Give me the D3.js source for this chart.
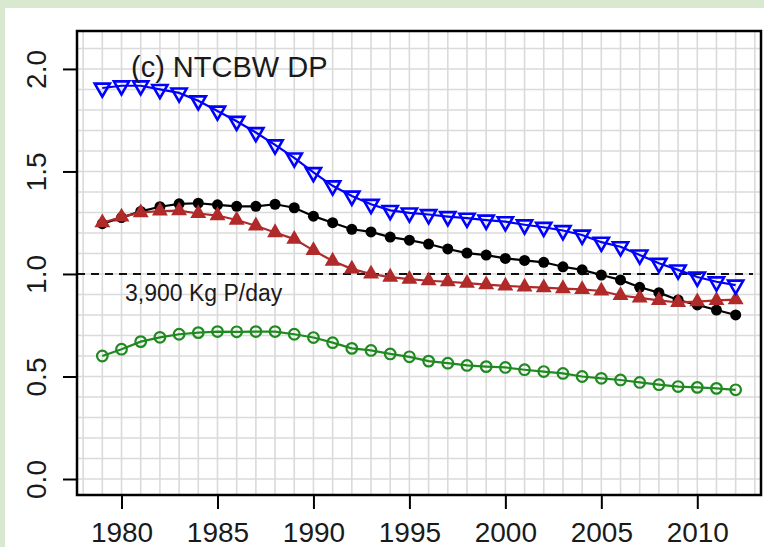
<!DOCTYPE html>
<html>
<head>
<meta charset="utf-8">
<script src="https://cdn.jsdelivr.net/npm/d3@7/dist/d3.min.js"></script>
<style>
  html, body { margin: 0; padding: 0; background: #d8e9d0; }
  svg { display: block; }
  text { font-family: "Liberation Sans", Arial, sans-serif; fill: #1a1a1a; }
</style>
</head>
<body>
<svg id="chart" width="764" height="547"></svg>
<script>
// Years of record
const years = d3.range(1979, 2013);

// Series values (DP load relative to 3,900 Kg P/day)
const blueSeries = [1.907, 1.918, 1.918, 1.900, 1.883, 1.845, 1.795, 1.745, 1.690, 1.630,
  1.566, 1.495, 1.430, 1.380, 1.340, 1.310, 1.298, 1.290, 1.280, 1.272,
  1.263, 1.255, 1.240, 1.228, 1.212, 1.190, 1.155, 1.133, 1.093, 1.052,
  1.020, 0.985, 0.962, 0.946];
const blackSeries = [1.245, 1.275, 1.305, 1.328, 1.342, 1.345, 1.337, 1.330, 1.330, 1.340,
  1.323, 1.282, 1.250, 1.218, 1.205, 1.180, 1.165, 1.146, 1.122, 1.102,
  1.092, 1.076, 1.066, 1.057, 1.035, 1.020, 0.995, 0.971, 0.935, 0.909,
  0.873, 0.849, 0.824, 0.800];
const redSeries = [1.250, 1.278, 1.299, 1.307, 1.309, 1.295, 1.285, 1.263, 1.235, 1.202,
  1.170, 1.115, 1.063, 1.025, 1.000, 0.985, 0.975, 0.967, 0.962, 0.955,
  0.948, 0.942, 0.937, 0.933, 0.929, 0.925, 0.917, 0.895, 0.883, 0.871,
  0.861, 0.865, 0.871, 0.875];
const greenSeries = [0.600, 0.633, 0.670, 0.691, 0.706, 0.714, 0.719, 0.718, 0.719, 0.719,
  0.706, 0.690, 0.665, 0.637, 0.627, 0.610, 0.596, 0.575, 0.565, 0.554,
  0.548, 0.544, 0.533, 0.524, 0.515, 0.500, 0.491, 0.483, 0.471, 0.460,
  0.451, 0.447, 0.442, 0.435];

// Axis ticks and reference level
const xTicks = [1980, 1985, 1990, 1995, 2000, 2005, 2010];
const yTicks = [0.0, 0.5, 1.0, 1.5, 2.0];
const yTickLabels = ["0.0", "0.5", "1.0", "1.5", "2.0"];
const refLevel = 1.0;
const refLabel = "3,900 Kg P/day";
const title = "(c) NTCBW DP";

const svg = d3.select("#chart");

// White panel on the green page
svg.append("rect").attr("x", 5).attr("y", 8).attr("width", 759).attr("height", 539).attr("fill", "#ffffff");

const plot = { left: 77, right: 761, top: 31, bottom: 495 };

const x = d3.scaleLinear().domain([1977.68, 2013.32]).range([plot.left, plot.right]);
const y = d3.scaleLinear().domain([-0.078, 2.185]).range([plot.bottom, plot.top]);

// Grid: one line per year and per 0.1
const grid = svg.append("g").attr("stroke", "#dadada").attr("stroke-width", 1.6);
d3.range(1978, 2014).forEach(yr => {
  grid.append("line").attr("x1", x(yr)).attr("x2", x(yr)).attr("y1", plot.top).attr("y2", plot.bottom);
});
d3.range(0, 22).forEach(i => {
  const v = i / 10;
  grid.append("line").attr("x1", plot.left).attr("x2", plot.right).attr("y1", y(v)).attr("y2", y(v));
});

// Reference level
svg.append("line")
  .attr("x1", plot.left).attr("x2", 753)
  .attr("y1", y(refLevel)).attr("y2", y(refLevel))
  .attr("stroke", "#111").attr("stroke-width", 2)
  .attr("stroke-dasharray", "8,6");

svg.append("text")
  .attr("x", 125).attr("y", 301)
  .attr("font-size", 23)
  .text(refLabel);

// Series, in drawing order
const series = [
  { values: greenSeries, color: "#1f8a1f", shape: "circleOpen" },
  { values: blackSeries, color: "#000000", shape: "circleFilled" },
  { values: redSeries, color: "#b02a2a", shape: "triUpFilled" },
  { values: blueSeries, color: "#0000ff", shape: "triDownOpen" }
];

const line = d3.line().x((d, i) => x(years[i])).y(d => y(d));

series.forEach(s => {
  svg.append("path")
    .attr("d", line(s.values))
    .attr("fill", "none")
    .attr("stroke", s.color)
    .attr("stroke-width", 2.2);

  const g = svg.append("g");
  s.values.forEach((v, i) => {
    const cx = x(years[i]), cy = y(v);
    if (s.shape === "circleOpen") {
      g.append("circle").attr("cx", cx).attr("cy", cy).attr("r", 5.3)
        .attr("fill", "none").attr("stroke", s.color).attr("stroke-width", 2.2);
    } else if (s.shape === "circleFilled") {
      g.append("circle").attr("cx", cx).attr("cy", cy).attr("r", 5.5)
        .attr("fill", s.color);
    } else if (s.shape === "triUpFilled") {
      g.append("path").attr("transform", `translate(${cx},${cy})`)
        .attr("d", d3.symbol().type(d3.symbolTriangle).size(110)())
        .attr("fill", s.color);
    } else {
      g.append("path").attr("transform", `translate(${cx},${cy}) rotate(180)`)
        .attr("d", d3.symbol().type(d3.symbolTriangle).size(100)())
        .attr("fill", "none").attr("stroke", s.color).attr("stroke-width", 2.6);
    }
  });
});

// Plot frame
svg.append("rect")
  .attr("x", plot.left).attr("y", plot.top)
  .attr("width", plot.right - plot.left).attr("height", plot.bottom - plot.top)
  .attr("fill", "none").attr("stroke", "#000").attr("stroke-width", 2.5);

// Bottom axis
const xAxis = svg.append("g").attr("transform", `translate(0,${plot.bottom})`)
  .call(d3.axisBottom(x).tickValues(xTicks).tickSize(14).tickFormat(d3.format("d")));
xAxis.select(".domain").remove();
xAxis.selectAll(".tick line").attr("stroke", "#000").attr("stroke-width", 2);
xAxis.selectAll(".tick text")
  .attr("y", 47).attr("dy", 0)
  .attr("font-size", 28)
  .attr("font-family", "Liberation Sans, Arial, sans-serif")
  .attr("fill", "#1a1a1a");

// Left axis with rotated labels
const yAxis = svg.append("g").attr("transform", `translate(${plot.left},0)`)
  .call(d3.axisLeft(y).tickValues(yTicks).tickSize(14).tickFormat((d, i) => yTickLabels[i]));
yAxis.select(".domain").remove();
yAxis.selectAll(".tick line").attr("stroke", "#000").attr("stroke-width", 2);
yAxis.selectAll(".tick text")
  .attr("x", 0).attr("dy", 0)
  .attr("text-anchor", "middle")
  .attr("transform", "translate(-31,0) rotate(-90)")
  .attr("font-size", 28)
  .attr("font-family", "Liberation Sans, Arial, sans-serif")
  .attr("fill", "#1a1a1a");

// Panel title
svg.append("text")
  .attr("x", 131).attr("y", 77)
  .attr("font-size", 29)
  .text(title);
</script>
</body>
</html>
